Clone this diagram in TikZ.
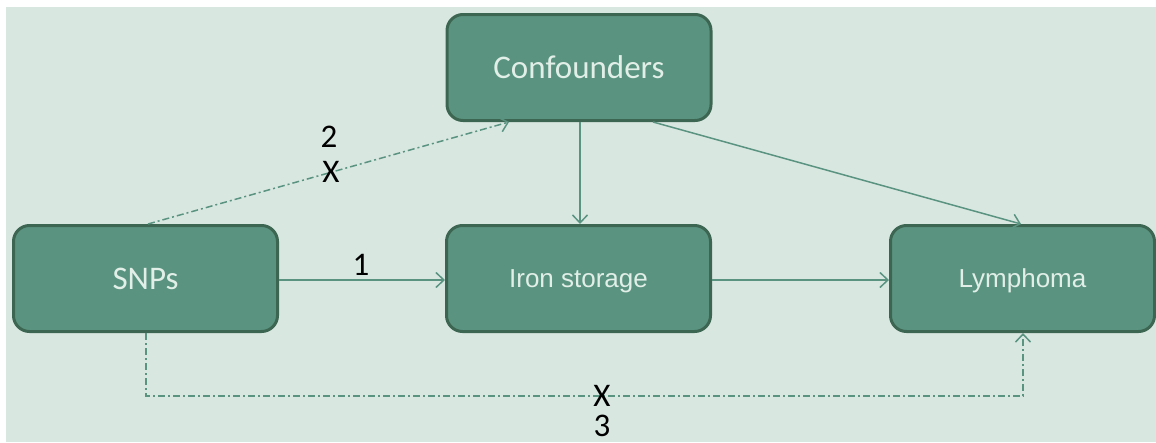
\documentclass[tikz,border=0pt]{standalone}
\usepackage{fontspec}
\setmainfont{Carlito}
\newfontfamily\arialf{Liberation Sans}
\usetikzlibrary{arrows.meta,calc}
\definecolor{bgc}{HTML}{D9E7E1}
\definecolor{boxfill}{HTML}{5A9481}
\definecolor{boxline}{HTML}{3D6652}
\definecolor{boxtext}{HTML}{E1EFE8}
\definecolor{arrc}{HTML}{5A9481}
\tikzset{
  x=1pt, y=-1pt,
  box/.style={draw=boxline, fill=boxfill, line width=3pt, rounded corners=16pt,
    minimum width=264pt, minimum height=106pt, inner sep=0pt, text=boxtext,
    text depth=0pt},
  calfont/.style={font=\fontsize{33}{36}\selectfont, text height=21.3pt},
  arifont/.style={font=\arialf\fontsize{26}{30}\selectfont, text height=18.6pt},
  link/.style={draw=arrc, line width=1.5pt, -{Straight Barb[length=8pt,width=15pt,line width=1.5pt]}},
  dashlink/.style={link, dash pattern=on 7pt off 3pt on 2pt off 3pt},
  lab/.style={inner sep=0pt, text=black, font=\fontsize{33}{36}\selectfont,
    text height=21pt, text depth=0pt}
}
\begin{document}
\begin{tikzpicture}
\useasboundingbox (0,0) rectangle (1156,442);
\fill[white] (0,0) rectangle (1156,442);
\fill[bgc] (6,7) rectangle (1156,442);

\node[box, calfont] (conf) at (579,67.5) {Confounders};
\node[box, calfont] (snps) at (145.5,278.5) {SNPs};
\node[box, arifont] (iron) at (578.5,278.5) {Iron storage};
\node[box, arifont] (lym) at (1022.5,278.5) {Lymphoma};

% 1: SNPs -> Iron storage
\draw[link] (snps.east |- 0,280) -- (iron.west |- 0,280);
\node[lab] (l1) at (361,265) {1};
% Iron -> Lymphoma
\draw[link] (iron.east |- 0,280) -- (lym.west |- 0,280);
% Confounders -> Iron
\draw[link] (conf.south -| 580,0) -- (iron.north -| 580,0);
% Confounders -> Lymphoma
\draw[link] (conf.south -| 653,0) -- (lym.north -| 1021,0);
% 2: SNPs -> Confounders
\draw[dashlink] (snps.north -| 148,0) -- (conf.south -| 509,0);
\node[lab] (l2) at (329,137) {2};
\node[lab] (x2) at (331,172) {X};
% 3: SNPs -> Lymphoma
\coordinate (c1) at (146,396);
\coordinate (c2) at (1023,396);
\draw[dashlink] (snps.south -| c1) -- (c1) -- (c2) -- (lym.south -| c2);
\node[lab] (x3) at (602,396) {X};
\node[lab] (l3) at (602,426) {3};
\end{tikzpicture}
\end{document}
